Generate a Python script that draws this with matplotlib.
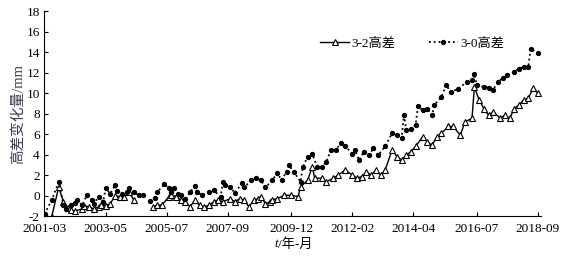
import numpy as np
import pandas as pd
import matplotlib
matplotlib.use('Agg')
import matplotlib.pyplot as plt

plt.rcParams['font.family'] = ['Liberation Serif', 'Noto Sans CJK SC']
plt.rcParams['axes.unicode_minus'] = False

# 3-2 height difference (mm); NaN marks the missing stretch
dates_32 = ['2001-03', '2001-06', '2001-09', '2001-11', '2002-01', '2002-02', '2002-04',
            '2002-07', '2002-08', '2002-10', '2002-12', '2003-02', '2003-03', '2003-05',
            '2003-07', '2003-09', '2003-11', '2004-01', '2004-03', '2004-05', '2004-09',
            '2005-01', '2005-03', '2005-05', '2005-08', '2005-09', '2005-11', '2006-01',
            '2006-03', '2006-05', '2006-07', '2006-09', '2006-11', '2007-01', '2007-03',
            '2007-05', '2007-07', '2007-10', '2007-12', '2008-02', '2008-04', '2008-06',
            '2008-08', '2008-10', '2008-11', '2009-01', '2009-03', '2009-04', '2009-06',
            '2009-09', '2009-12', '2010-03', '2010-04', '2010-07', '2010-09', '2010-10',
            '2011-01', '2011-03', '2011-06', '2011-08', '2011-11', '2012-02', '2012-04',
            '2012-06', '2012-08', '2012-10', '2012-12', '2013-02', '2013-04', '2013-07',
            '2013-09', '2013-11', '2014-01', '2014-03', '2014-05', '2014-08', '2014-10',
            '2014-12', '2015-02', '2015-04', '2015-07', '2015-09', '2015-12', '2016-02',
            '2016-05', '2016-06', '2016-08', '2016-10', '2016-12', '2017-02', '2017-05',
            '2017-07', '2017-09', '2017-11', '2018-01', '2018-03', '2018-05', '2018-07',
            '2018-09']
vals_32 = [-2.0, -2.1, 0.85, -0.6, -1.2, -1.4, -1.5,
           -1.3, -1.0, -1.1, -1.3, -1.1, -0.9, -1.0,
           -0.8, 0.0, -0.1, -0.1, 0.35, -0.45, np.nan,
           -1.1, -0.95, -0.9, -0.1, 0.03, -0.1, -0.45,
           -0.6, -1.1, -0.45, -0.95, -1.1, -0.95, -0.6,
           -0.45, -0.6, -0.3, -0.6, -0.3, -0.45, -1.1,
           -0.45, -0.3, -0.1, -0.8, -0.6, -0.4, -0.3,
           0.03, 0.03, -0.1, 0.85, 1.5, 2.8, 1.7,
           1.7, 1.35, 1.7, 2.0, 2.5, 2.0, 1.7,
           1.85, 2.3, 2.0, 2.5, 2.0, 2.5, 4.45,
           3.8, 3.45, 3.95, 4.3, 4.8, 5.75, 5.25,
           4.9, 5.75, 6.1, 6.75, 6.75, 5.9, 7.2,
           7.55, 10.6, 9.35, 8.5, 7.85, 8.2, 7.55,
           7.85, 7.55, 8.5, 8.85, 9.35, 9.5, 10.5,
           10.0]

# 3-0 height difference (mm)
dates_30 = ['2001-03', '2001-06', '2001-09', '2001-11', '2001-12', '2002-02', '2002-04',
            '2002-05', '2002-07', '2002-09', '2002-11', '2002-12', '2003-02', '2003-04',
            '2003-05', '2003-07', '2003-09', '2003-10', '2003-12', '2004-02', '2004-03',
            '2004-05', '2004-07', '2004-09', '2004-10', '2004-12', '2005-02', '2005-03',
            '2005-06', '2005-08', '2005-09', '2005-10', '2005-12', '2006-01', '2006-03',
            '2006-05', '2006-07', '2006-08', '2006-10', '2007-01', '2007-03', '2007-06',
            '2007-07', '2007-08', '2007-10', '2007-12', '2008-03', '2008-04', '2008-07',
            '2008-09', '2008-11', '2009-01', '2009-04', '2009-06', '2009-08', '2009-10',
            '2009-11', '2010-01', '2010-04', '2010-05', '2010-07', '2010-09', '2010-11',
            '2011-01', '2011-03', '2011-05', '2011-07', '2011-09', '2011-11', '2012-02',
            '2012-03', '2012-05', '2012-07', '2012-09', '2012-11', '2013-01', '2013-04',
            '2013-07', '2013-09', '2013-11', '2013-12', '2014-01', '2014-03', '2014-05',
            '2014-06', '2014-08', '2014-10', '2014-12', '2015-01', '2015-04', '2015-06',
            '2015-08', '2015-11', '2016-03', '2016-05', '2016-06', '2016-07', '2016-10',
            '2016-12', '2017-02', '2017-04', '2017-06', '2017-08', '2017-11', '2018-01',
            '2018-03', '2018-05', '2018-06', '2018-09']
vals_30 = [-1.8, -0.45, 1.3, -0.9, -1.3, -0.9, -0.7,
           -0.45, -0.95, 0.03, -0.45, -0.8, -0.1, -0.6,
           0.7, 0.2, 1.0, 0.4, 0.2, 0.35, 0.7,
           0.35, 0.03, 0.03, np.nan, -0.5, -0.2, 0.35,
           1.1, 0.7, 0.35, 0.7, 0.2, 0.03, -0.3,
           0.35, 0.9, 0.35, 0.03, 0.35, 0.5, -0.1,
           1.3, 1.0, 0.85, 0.25, 1.2, 0.8, 1.5,
           1.7, 1.5, 0.8, 1.5, 2.2, 1.5, 2.35,
           2.95, 2.35, 1.35, 2.8, 3.8, 4.1, 2.8,
           2.8, 3.3, 4.45, 4.45, 5.1, 4.8, 4.1,
           4.5, 3.45, 4.3, 3.95, 4.6, 3.95, 4.8,
           6.1, 5.9, 5.6, 7.85, 6.4, 6.55, 6.9,
           8.7, 8.35, 8.5, 7.85, 8.85, 9.65, 10.8,
           10.1, 10.45, 11.1, 11.25, 11.85, 10.8, 10.6,
           10.55, 10.35, 11.1, 11.45, 11.75, 12.1, 12.4,
           12.55, 12.6, 14.35, 13.9]

tick_labels = ['2001-03', '2003-05', '2005-07', '2007-09', '2009-12',
               '2012-02', '2014-04', '2016-07', '2018-09']

t32 = pd.to_datetime(dates_32)
t30 = pd.to_datetime(dates_30)
ticks = pd.to_datetime(tick_labels)

fig = plt.figure(figsize=(5.62, 2.56), dpi=100)
ax = fig.add_axes([0.078, 0.156, 0.885, 0.80])

ax.plot(t32, vals_32, '-', color='black', lw=1.0, marker='^', ms=4,
        mfc='white', mec='black', mew=0.8, label='3-2高差')
ax.plot(t30, vals_30, ':', color='black', lw=1.3, marker='o', ms=2.8,
        mfc='black', mec='black', label='3-0高差')

ax.set_xlim(pd.Timestamp('2001-02-20'), pd.Timestamp('2018-10-15'))
ax.set_ylim(-2, 18)
ax.set_yticks(np.arange(-2, 19, 2))
ax.set_xticks(ticks)
ax.set_xticklabels(tick_labels)
ax.tick_params(direction='in', labelsize=9.5, length=3, width=0.8, pad=3)
ax.tick_params(axis='x', pad=5)
for s in ['top', 'right']:
    ax.spines[s].set_visible(False)
for s in ['left', 'bottom']:
    ax.spines[s].set_linewidth(0.8)

ax.set_ylabel('高差变化量/mm', fontsize=10.5, color='#3c3c4c', labelpad=1)
# x label: italic t followed by "/年-月"
ax.set_xlabel('/年-月', fontsize=9.5, labelpad=2)
ax.xaxis.label.set_position((0.5 + 0.006, 0))
ax.annotate('t', xy=(0, 0.5), xycoords=ax.xaxis.label, ha='right', va='center',
            fontsize=9.5, style='italic')

ax.legend(loc='upper right', bbox_to_anchor=(0.95, 0.93), ncol=2, frameon=False,
          fontsize=9.5, handlelength=2.2, columnspacing=2.5, handletextpad=0.2)

fig.savefig('out.png', dpi=100)
